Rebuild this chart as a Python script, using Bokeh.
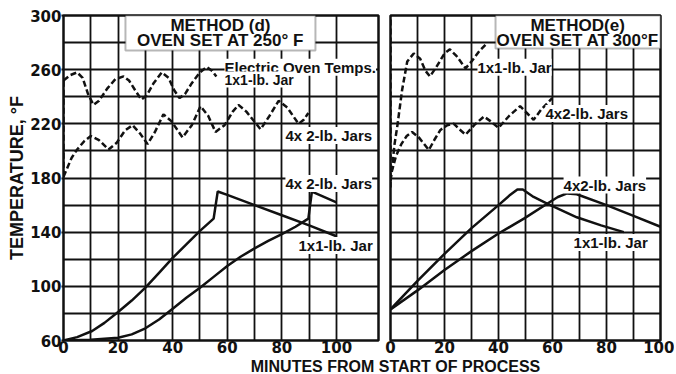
import math
from bokeh.plotting import figure
from bokeh.models import FixedTicker, Label, BoxAnnotation, Range1d
from bokeh.layouts import row, column
from bokeh.embed import file_html
from bokeh.resources import INLINE

# ---------------- data ----------------
x_ticks = [0, 20, 40, 60, 80, 100]
x_grid = [0, 10, 20, 30, 40, 50, 60, 70, 80, 90, 100]
y_ticks = [60, 100, 140, 180, 220, 260, 300]
y_grid = [60, 80, 100, 120, 140, 160, 180, 200, 220, 240, 260, 280, 300]

# Method (d): oven set at 250 F
d_oven_1lb_t = [0, 2.5, 5, 7, 9, 11, 13, 16, 19, 22, 24, 26.5, 28.5, 30.5, 33, 36, 38.5, 40.5, 42.5, 44.5, 47, 50, 52.5, 54.5, 56]
d_oven_1lb_T = [252, 256, 258, 254, 242, 234, 237, 246, 253, 255, 252, 244, 238, 241, 250, 258, 254, 245, 239, 242, 250, 258, 262, 259, 255]
d_oven_4jar_t = [0, 1.5, 3, 5, 7.5, 10, 13, 16.5, 19.5, 22.5, 25.3, 28, 30.8, 33.5, 36.6, 39.5, 43.6, 47, 50.2, 53, 55.7, 59, 62, 64.1, 67, 72.2, 75.5, 78.8, 82, 86.1, 88, 89.7]
d_oven_4jar_T = [181, 188, 195, 201, 207, 211, 208, 201, 206, 215, 219, 213, 205, 214, 227, 222, 210, 219, 233, 226, 214, 219, 229, 234, 229, 216, 226, 237, 232, 220, 223, 228]
d_vert_t = [0, 0]
d_vert_T = [181, 252]
d_1lb_t = [0, 5, 10.5, 15, 20, 25, 30, 35, 40, 45, 50, 55, 56.5, 60, 70, 80, 90, 100]
d_1lb_T = [60, 62.5, 67, 73, 81, 89.5, 99, 110, 121, 131, 141, 150, 170, 167.5, 160, 152.5, 145, 137]
d_4jar_t = [0, 10, 20, 25, 30, 35, 40, 45, 50, 55, 60, 65, 70, 75, 80, 85, 89.7, 91, 100]
d_4jar_T = [60, 60.5, 62, 64.5, 69, 75.5, 83.5, 91.5, 99, 107, 115, 122, 128, 133.5, 138.5, 144, 150, 170, 162]

# Method (e): oven set at 300 F
e_oven_1lb_t = [0, 0.6, 1.5, 2.5, 4.3, 6.2, 8.6, 11, 13, 14.6, 17, 20, 22, 24.5, 27.8, 30, 33, 35.2]
e_oven_1lb_T = [178, 188, 205, 218, 245, 266, 272, 268, 259, 255, 262, 272, 275, 270, 261, 266, 274, 278.5]
e_oven_4jar_t = [0, 0.3, 2, 4, 6, 8, 10.5, 14.2, 16.5, 18.5, 21, 23.5, 25.5, 27.8, 31, 34.6, 37, 40, 44, 48, 50.5, 53, 56, 59.9]
e_oven_4jar_T = [178, 183.5, 196, 205, 211, 214, 210, 200.7, 209, 215.5, 219, 220, 216, 212, 219, 225.4, 222, 217, 226, 233, 228, 223, 231, 239]
e_vert_t = [0, 0]
e_vert_T = [173, 300]
e_1lb_t = [0, 10, 20, 30, 40, 44, 47, 49, 53, 58, 69, 78, 86.4]
e_1lb_T = [83, 104, 124, 143, 160, 167, 171.5, 171.5, 166, 161, 151, 145, 140]
e_4jar_t = [0, 10, 20, 30, 40, 49.4, 58, 62, 65.4, 69, 80, 90, 100]
e_4jar_T = [83, 97, 112, 126, 139, 150, 161, 166, 168.6, 168, 160, 152, 144]

INK = "#111111"
TXT_FONT = "Liberation Sans"
NUM_FONT = "DejaVu Sans"
H = 357


def make_fig(xmax, width, bl, br, show_y):
    p = figure(width=width, height=H, x_range=Range1d(0, xmax), y_range=Range1d(60, 300),
               output_backend="svg", toolbar_location=None, title=None,
               min_border_left=bl, min_border_right=br, min_border_top=15, min_border_bottom=17)
    p.background_fill_color = "white"
    p.border_fill_color = "white"
    p.outline_line_color = INK
    p.outline_line_width = 2.5
    p.xgrid.ticker = FixedTicker(ticks=x_grid)
    p.ygrid.ticker = FixedTicker(ticks=y_grid)
    for g in (p.xgrid, p.ygrid):
        g.grid_line_color = INK
        g.grid_line_width = 1.8
        g.grid_line_alpha = 1
    p.xaxis.ticker = FixedTicker(ticks=x_ticks)
    p.xaxis.axis_line_color = None
    p.xaxis.major_tick_line_color = None
    p.xaxis.minor_tick_line_color = None
    p.xaxis.major_tick_out = 0
    p.xaxis.major_tick_in = 0
    p.xaxis.major_label_standoff = 0
    p.yaxis.ticker = FixedTicker(ticks=y_ticks)
    p.yaxis.axis_line_color = None
    p.yaxis.minor_tick_line_color = None
    p.yaxis.major_tick_in = 0
    p.yaxis.major_tick_out = 2
    p.yaxis.major_tick_line_width = 2
    p.yaxis.major_tick_line_color = INK
    p.yaxis.major_label_standoff = 0
    for ax in (p.xaxis, p.yaxis):
        ax.major_label_text_font = NUM_FONT
        ax.major_label_text_font_style = "bold"
        ax.major_label_text_font_size = "15px"
        ax.major_label_text_color = INK
    if not show_y:
        p.yaxis.visible = False
    return p


def txt(p, x, y, s, size="15px", align="left", bg=True):
    lab = Label(x=x, y=y, text=s, text_font=TXT_FONT, text_font_style="bold",
                text_font_size=size, text_color=INK, text_align=align,
                text_baseline="alphabetic")
    if bg:
        lab.background_fill_color = "white"
        lab.background_fill_alpha = 1
    p.add_layout(lab)


# ---------------- left panel: method (d) ----------------
p1 = make_fig(115.4, 382, 63, 4, True)
p1.yaxis.axis_label = "TEMPERATURE, °F"
p1.yaxis.axis_label_text_font = TXT_FONT
p1.yaxis.axis_label_text_font_style = "bold"
p1.yaxis.axis_label_text_font_size = "18px"
p1.yaxis.axis_label_text_color = INK
p1.yaxis.axis_label_standoff = 0

p1.line(d_vert_t, d_vert_T, line_color=INK, line_width=2.5, line_dash="6 3")
p1.line(d_oven_1lb_t, d_oven_1lb_T, line_color=INK, line_width=2.5, line_dash="6 3")
p1.line(d_oven_4jar_t, d_oven_4jar_T, line_color=INK, line_width=2.5, line_dash="6 3")
p1.line(d_1lb_t, d_1lb_T, line_color=INK, line_width=2.5)
p1.line(d_4jar_t, d_4jar_T, line_color=INK, line_width=2.5)

p1.add_layout(BoxAnnotation(left=22.7, right=92.3, bottom=274.2, top=300,
                            fill_color="white", fill_alpha=1, line_color=INK, line_width=2))
txt(p1, 57.5, 292.7, "METHOD (d)", size="17px", align="center", bg=False)
txt(p1, 57.5, 281.7, "OVEN SET AT 250° F", size="17px", align="center", bg=False)
txt(p1, 59, 261.7, "Electric Oven Temps.")
txt(p1, 59, 252.7, "1x1-lb. Jar", size="14px")
txt(p1, 81.3, 211.4, "4x 2-lb. Jars")
txt(p1, 81.3, 176, "4x 2-lb. Jars")
txt(p1, 86.1, 130.2, "1x1-lb. Jar")

# ---------------- right panel: method (e) ----------------
p2 = make_fig(100, 292, 8, 14, False)
p2.line(e_vert_t, e_vert_T, line_color=INK, line_width=2.5, line_dash="6 3")
p2.line(e_oven_1lb_t, e_oven_1lb_T, line_color=INK, line_width=2.5, line_dash="6 3")
p2.line(e_oven_4jar_t, e_oven_4jar_T, line_color=INK, line_width=2.5, line_dash="6 3")
p2.line(e_1lb_t, e_1lb_T, line_color=INK, line_width=2.5)
p2.line(e_4jar_t, e_4jar_T, line_color=INK, line_width=2.5)

p2.add_layout(BoxAnnotation(left=38.9, right=100, bottom=275.7, top=300,
                            fill_color="white", fill_alpha=1, line_color=INK, line_width=2))
txt(p2, 69.3, 292.7, "METHOD(e)", size="17px", align="center", bg=False)
txt(p2, 69.3, 281.7, "OVEN SET AT 300°F", size="17px", align="center", bg=False)
txt(p2, 32.2, 261.7, "1x1-lb. Jar")
txt(p2, 57.4, 227.7, "4x2-lb. Jars")
txt(p2, 64.1, 174.8, "4x2-lb. Jars")
txt(p2, 67.8, 132.4, "1x1-lb. Jar")

# ---------------- shared x-axis title ----------------
p3 = figure(width=674, height=17, x_range=Range1d(0, 674), y_range=Range1d(0, 17),
            output_backend="svg", toolbar_location=None, min_border=0, title=None)
p3.axis.visible = False
p3.grid.visible = False
p3.outline_line_color = None
p3.background_fill_color = "white"
p3.border_fill_color = "white"
p3.add_layout(Label(x=395, y=8, text="MINUTES FROM START OF PROCESS",
                    text_font=TXT_FONT, text_font_style="bold", text_font_size="16px",
                    text_color=INK, text_align="center", text_baseline="alphabetic"))

layout = column(row(p1, p2), p3)
open("out.html", "w").write(file_html(layout, INLINE))
